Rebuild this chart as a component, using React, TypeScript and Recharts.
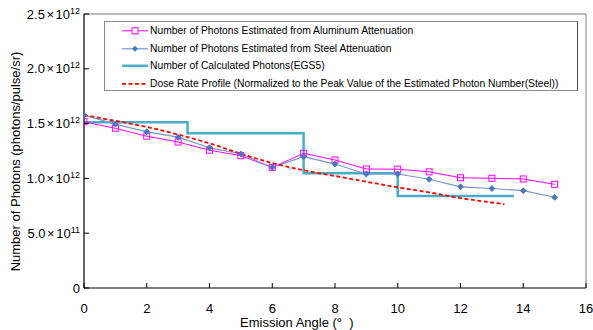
import React from "react";
import { LineChart, Line, XAxis, YAxis, ReferenceLine, Legend } from "recharts";

const angles = [0, 1, 2, 3, 4, 5, 6, 7, 8, 9, 10, 11, 12, 13, 14, 15];
const aluminum = [1.517, 1.457, 1.385, 1.332, 1.257, 1.207, 1.1, 1.229, 1.168, 1.086, 1.084, 1.06, 1.006, 1.001, 0.995, 0.946];
const steel = [1.578, 1.495, 1.425, 1.376, 1.28, 1.223, 1.1, 1.198, 1.131, 1.04, 1.04, 0.992, 0.923, 0.908, 0.888, 0.828];

const egsAngles = [0, 3.3, 7, 10, 13.7];
const egsValues = [1.512, 1.411, 1.047, 0.839, 0.839];

const doseAngles = [0, 1, 2, 3, 4, 5, 6, 7, 8, 9, 10, 11, 12, 13, 13.4];
const doseValues = [1.578, 1.525, 1.47, 1.4, 1.32, 1.225, 1.14, 1.075, 1.022, 0.97, 0.918, 0.872, 0.82, 0.78, 0.764];

const xTicks = [0, 2, 4, 6, 8, 10, 12, 14, 16];
const yTicks = [0, 0.5, 1.0, 1.5, 2.0, 2.5];
const yTickMantissa = ["0", "5.0", "1.0", "1.5", "2.0", "2.5"];
const yTickExponent = ["", "11", "12", "12", "12", "12"];

const seriesNames = [
  "Number of Photons Estimated from Aluminum Attenuation",
  "Number of Photons Estimated from Steel Attenuation",
  "Number of Calculated Photons(EGS5)",
  "Dose Rate Profile (Normalized to the Peak Value of the Estimated Photon Number(Steel))",
];

const alData = angles.map((x, i) => ({ x, v: aluminum[i] }));
const stData = angles.map((x, i) => ({ x, v: steel[i] }));
const egsData = egsAngles.map((x, i) => ({ x, v: egsValues[i] }));
const doseData = doseAngles.map((x, i) => ({ x, v: doseValues[i] }));

const FONT = "Arial, 'Liberation Sans', Helvetica, sans-serif";
const MAGENTA = "#ff00ff";
const STEEL_LINE = "#7597cc";
const STEEL_MARK = "#4a76bb";
const CYAN = "#4bacc6";
const RED = "#ff0000";

const SquareDot = (props: any) => {
  const { cx, cy, index } = props;
  if (cx == null || cy == null) return <g key={`sq-${index}`} />;
  return <rect key={`sq-${index}`} x={cx - 3} y={cy - 3} width={6} height={6} fill="none" stroke={MAGENTA} strokeWidth={1} />;
};

const DiamondDot = (props: any) => {
  const { cx, cy, index } = props;
  if (cx == null || cy == null) return <g key={`dm-${index}`} />;
  const r = 3;
  return (
    <polygon
      key={`dm-${index}`}
      points={`${cx},${cy - r} ${cx + r},${cy} ${cx},${cy + r} ${cx - r},${cy}`}
      fill={STEEL_MARK}
      stroke={STEEL_MARK}
      strokeWidth={0.8}
    />
  );
};

const YTick = (props: any) => {
  const { x, y, payload } = props;
  const idx = yTicks.indexOf(payload.value);
  const m = yTickMantissa[idx] ?? "";
  const e = yTickExponent[idx] ?? "";
  return (
    <g>
      <line x1={x + 4} x2={x + 9} y1={y} y2={y} stroke="#000" strokeWidth={1} />
      <text x={x} y={y + 4.6} textAnchor="end" fontFamily={FONT} fontSize={13} fill="#000">
        {e ? (
          <>
            <tspan>{m}</tspan>
            <tspan dx={1.5}>×</tspan>
            <tspan dx={1.5}>10</tspan>
            <tspan dy={-5} fontSize={9}>{e}</tspan>
          </>
        ) : (
          <tspan>{m}</tspan>
        )}
      </text>
    </g>
  );
};

const XTick = (props: any) => {
  const { x, y, payload } = props;
  return (
    <g>
      <line x1={x} x2={x} y1={y} y2={y - 5} stroke="#000" strokeWidth={1} />
      <text x={x} y={y + 25} textAnchor="middle" fontFamily={FONT} fontSize={13} fill="#000">
        {payload.value}
      </text>
    </g>
  );
};

const LegendBox = () => {
  const rowH = 17.6;
  const samples = [
    (
      <svg width={30} height={rowH}>
        <line x1={2} x2={28} y1={rowH / 2} y2={rowH / 2} stroke={MAGENTA} strokeWidth={1} />
        <rect x={12} y={rowH / 2 - 3} width={6} height={6} fill="#fff" stroke={MAGENTA} strokeWidth={1} />
      </svg>
    ),
    (
      <svg width={30} height={rowH}>
        <line x1={2} x2={28} y1={rowH / 2} y2={rowH / 2} stroke={STEEL_LINE} strokeWidth={1.2} />
        <polygon points={`15,${rowH / 2 - 3} 18,${rowH / 2} 15,${rowH / 2 + 3} 12,${rowH / 2}`} fill={STEEL_MARK} />
      </svg>
    ),
    (
      <svg width={30} height={rowH}>
        <line x1={2} x2={28} y1={rowH / 2} y2={rowH / 2} stroke={CYAN} strokeWidth={2.5} />
      </svg>
    ),
    (
      <svg width={30} height={rowH}>
        <line x1={2} x2={28} y1={rowH / 2} y2={rowH / 2} stroke={RED} strokeWidth={1.8} strokeDasharray="4 2.5" />
      </svg>
    ),
  ];
  return (
    <div
      style={{
        width: 474,
        height: 70,
        boxSizing: "border-box",
        borderTop: "1px solid #8c8c8c",
        borderLeft: "1px solid #8c8c8c",
        borderBottom: "1px solid #8c8c8c",
        borderRight: "1.5px solid #444",
        background: "#fff",
        fontFamily: FONT,
        fontSize: 10.3,
        color: "#000",
      }}
    >
      {seriesNames.map((name, i) => (
        <div key={name} style={{ height: rowH, display: "flex", alignItems: "center", whiteSpace: "nowrap" }}>
          <div style={{ width: 15 }} />
          {samples[i]}
          <span>{name}</span>
        </div>
      ))}
    </div>
  );
};

export default function App() {
  return (
    <div style={{ position: "absolute", left: 0, top: 0, width: 593, height: 330, background: "#fff" }}>
      <LineChart width={593} height={330} margin={{ top: 14, right: 7, bottom: 0, left: 0 }}>
        <XAxis
          type="number"
          dataKey="x"
          domain={[0, 16]}
          ticks={xTicks}
          interval={0}
          height={42}
          tickSize={0}
          tickMargin={0}
          tick={<XTick />}
          axisLine={{ stroke: "#000", strokeWidth: 1.2 }}
          tickLine={false}
          allowDataOverflow
          label={{
            content: () => (
              <text x={240} y={326.5} fontFamily={FONT} fontSize={13} fill="#000">
                {"Emission Angle (°\u00a0\u00a0)"}
              </text>
            ),
          }}
        />
        <YAxis
          type="number"
          domain={[0, 2.5]}
          ticks={yTicks}
          interval={0}
          width={84}
          tickSize={0}
          tickMargin={4}
          tick={<YTick />}
          axisLine={{ stroke: "#000", strokeWidth: 1.2 }}
          tickLine={false}
          allowDataOverflow
          label={{
            content: () => (
              <text
                x={15}
                y={161.5}
                transform="rotate(-90 15 161.5)"
                textAnchor="middle"
                dominantBaseline="central"
                fontFamily={FONT}
                fontSize={13}
                fill="#000"
              >
                Number of Photons (photons/pulse/sr)
              </text>
            ),
          }}
        />
        <ReferenceLine y={2.5} stroke="#a6a6a6" strokeWidth={1.5} />
        <ReferenceLine x={16} stroke="#a6a6a6" strokeWidth={1.5} />
        <Line
          data={egsData}
          dataKey="v"
          type="stepAfter"
          stroke={CYAN}
          strokeWidth={2.5}
          dot={false}
          activeDot={false}
          isAnimationActive={false}
        />
        <Line
          data={alData}
          dataKey="v"
          type="linear"
          stroke={MAGENTA}
          strokeWidth={1}
          dot={SquareDot}
          activeDot={false}
          isAnimationActive={false}
        />
        <Line
          data={stData}
          dataKey="v"
          type="linear"
          stroke={STEEL_LINE}
          strokeWidth={1.2}
          dot={DiamondDot}
          activeDot={false}
          isAnimationActive={false}
        />
        <Line
          data={doseData}
          dataKey="v"
          type="monotone"
          stroke={RED}
          strokeWidth={1.8}
          strokeDasharray="4 2.5"
          dot={false}
          activeDot={false}
          isAnimationActive={false}
        />
        <Legend
          layout="horizontal"
          verticalAlign="middle"
          align="center"
          content={<LegendBox />}
          wrapperStyle={{ top: 21, left: 104, width: 474, height: 70 }}
        />
      </LineChart>
    </div>
  );
}
